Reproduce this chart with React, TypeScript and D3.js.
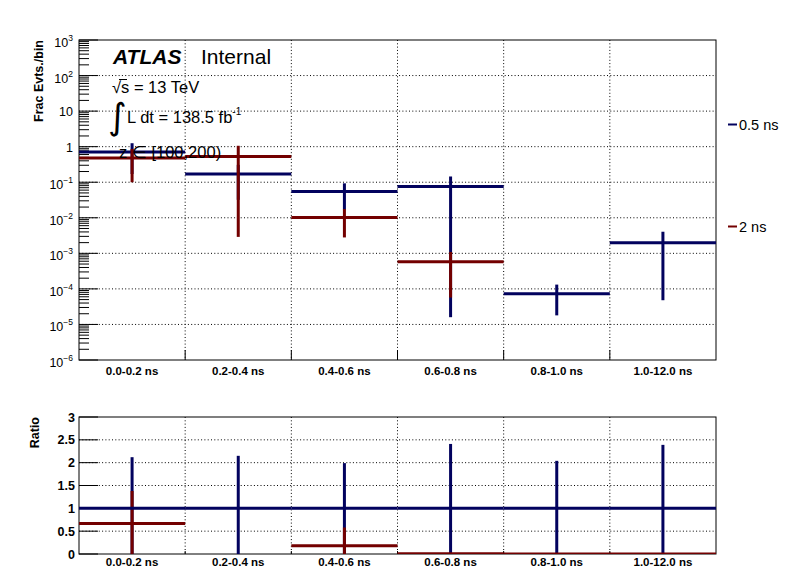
import React from "react";
import * as d3 from "d3";

const bins = ["0.0-0.2 ns", "0.2-0.4 ns", "0.4-0.6 ns", "0.6-0.8 ns", "0.8-1.0 ns", "1.0-12.0 ns"];

// upper panel: 0.5 ns series
const blueVals = [0.71, 0.17, 0.055, 0.076, 7.3e-5, 2.0e-3];
const blueLow = [0.17, 0.032, 0.017, 1.6e-5, 1.8e-5, 4.8e-5];
const blueHigh = [1.25, 0.308, 0.093, 0.145, 1.32e-4, 4.05e-3];

// upper panel: 2 ns series
const redVals = [0.48, 0.53, 0.0102, 5.8e-4, null, null];
const redLow = [0.1, 0.0029, 0.0028, 5.7e-5, null, null];
const redHigh = [0.86, 1.06, 0.0176, 1.09e-3, null, null];

// ratio panel
const blueRatio = [1, 1, 1, 1, 1, 1];
const blueRatioErr = [1.12, 1.15, 0.99, 1.41, 1.04, 1.39];
const redRatio = [0.67, null, 0.18, 0.008, 0, 0];
const redRatioErr = [0.71, null, 0.4, 0.01, 0, 0];

const seriesNames = ["0.5 ns", "2 ns"];
const upperTickExps = [3, 2, 1, 0, -1, -2, -3, -4, -5, -6];
const ratioTicks = [0, 0.5, 1, 1.5, 2, 2.5, 3];

const BLUE = "#02025e";
const RED = "#730000";
const FONT = "'Liberation Sans', Arial, Helvetica, sans-serif";

const L = 79, R = 716;
const T1 = 40, B1 = 360;
const T2 = 417, B2 = 554;

export default function App() {
  const x = d3.scaleBand<string>().domain(bins).range([L, R]).paddingInner(0).paddingOuter(0);
  const yTop = d3.scaleLog().domain([1e-6, 1e3]).range([B1, T1]);
  const yBot = d3.scaleLinear().domain([0, 3]).range([B2, T2]);
  const bw = x.bandwidth();
  const edges = bins.slice(1).map((b) => x(b) as number);

  const minorVals: number[] = [];
  for (let e = -6; e < 3; e++) for (let k = 2; k <= 9; k++) minorVals.push(k * Math.pow(10, e));

  const dots = "1 2.3";

  const supLabel = (e: number) => {
    if (e === 0) return <tspan>1</tspan>;
    if (e === 1) return <tspan>10</tspan>;
    const s = e < 0 ? "\u2212" + String(-e) : String(e);
    return (
      <>
        <tspan>10</tspan>
        <tspan dy={-6} fontSize={8.5}>{s}</tspan>
      </>
    );
  };

  return (
    <svg width={796} height={572} style={{ position: "absolute", left: 0, top: 0, background: "#fff" }} fontFamily={FONT}>
      <defs>
        <clipPath id="clipTop">
          <rect x={L} y={T1} width={R - L} height={B1 - T1} />
        </clipPath>
        <clipPath id="clipBot">
          <rect x={L} y={T2} width={R - L} height={B2 - T2} />
        </clipPath>
      </defs>
      <rect x={0} y={0} width={796} height={572} fill="#fff" />

      {/* ===== Upper panel ===== */}
      {edges.map((ex, i) => (
        <line key={"gv" + i} x1={ex} x2={ex} y1={T1} y2={B1} stroke="#000" strokeWidth={1} strokeDasharray={dots} />
      ))}
      {upperTickExps.filter((e) => e < 3 && e > -6).map((e) => (
        <line key={"gh" + e} x1={L} x2={R} y1={yTop(Math.pow(10, e))} y2={yTop(Math.pow(10, e))} stroke="#000" strokeWidth={1} strokeDasharray={dots} />
      ))}
      {upperTickExps.map((e) => (
        <line key={"mt" + e} x1={L} x2={L + 19} y1={yTop(Math.pow(10, e))} y2={yTop(Math.pow(10, e))} stroke="#000" strokeWidth={1} />
      ))}
      {minorVals.map((v, i) => (
        <line key={"mn" + i} x1={L} x2={L + 10} y1={yTop(v)} y2={yTop(v)} stroke="#000" strokeWidth={1} />
      ))}
      {edges.map((ex, i) => (
        <line key={"xt" + i} x1={ex} x2={ex} y1={B1} y2={B1 - 10} stroke="#000" strokeWidth={1} />
      ))}
      <rect x={L} y={T1} width={R - L} height={B1 - T1} fill="none" stroke="#000" strokeWidth={1} />

      {upperTickExps.map((e) => (
        <text key={"yl" + e} x={73} y={yTop(Math.pow(10, e)) + (e > 1 || e < 0 ? 7 : 5)} textAnchor="end" fontSize={12.5}>
          {supLabel(e)}
        </text>
      ))}
      {bins.map((b) => (
        <text key={"xl" + b} x={(x(b) as number) + bw / 2} y={375} textAnchor="middle" fontSize={11.5} fontWeight="bold">
          {b}
        </text>
      ))}
      <text transform={`translate(43,${T1}) rotate(-90)`} textAnchor="end" fontSize={12.5} fontWeight="bold">
        Frac Evts./bin
      </text>

      <g clipPath="url(#clipTop)">
        {bins.map((b, i) => {
          const x0 = x(b) as number;
          return (
            <g key={"b" + i} stroke={BLUE} strokeWidth={3}>
              <line x1={x0 + bw / 2} x2={x0 + bw / 2} y1={yTop(blueLow[i])} y2={yTop(blueHigh[i])} />
              <line x1={x0} x2={x0 + bw} y1={yTop(blueVals[i])} y2={yTop(blueVals[i])} />
            </g>
          );
        })}
        {bins.map((b, i) => {
          const v = redVals[i];
          if (v == null) return null;
          const x0 = x(b) as number;
          return (
            <g key={"r" + i} stroke={RED} strokeWidth={3}>
              <line x1={x0 + bw / 2} x2={x0 + bw / 2} y1={yTop(redLow[i] as number)} y2={yTop(redHigh[i] as number)} />
              <line x1={x0} x2={x0 + bw} y1={yTop(v)} y2={yTop(v)} />
            </g>
          );
        })}
      </g>

      <text x={113} y={64} fontSize={21} fontWeight="bold" fontStyle="italic">ATLAS</text>
      <text x={201} y={64} fontSize={21}>Internal</text>
      <text x={112} y={92.5} fontSize={16.5}>{"\u221As = 13 TeV"}</text>
      <line x1={119} x2={127} y1={79.5} y2={79.5} stroke="#000" strokeWidth={1} />
      <text x={108} y={129} fontSize={36} fontFamily="'DejaVu Sans', sans-serif">{"\u222B"}</text>
      <text x={127} y={122.5} fontSize={16.5}>
        L dt = 138.5 fb<tspan dy={-8} fontSize={10}>-1</tspan>
      </text>
      <text x={119} y={158} fontSize={16.5}>{"z \u2208 [100,200)"}</text>

      <line x1={728} x2={737} y1={124.5} y2={124.5} stroke={BLUE} strokeWidth={2} />
      <text x={739} y={130} fontSize={14.5}>{seriesNames[0]}</text>
      <line x1={728} x2={737} y1={226.5} y2={226.5} stroke={RED} strokeWidth={2} />
      <text x={739} y={232} fontSize={14.5}>{seriesNames[1]}</text>

      {/* ===== Lower panel ===== */}
      {edges.map((ex, i) => (
        <line key={"gv2" + i} x1={ex} x2={ex} y1={T2} y2={B2} stroke="#000" strokeWidth={1} strokeDasharray={dots} />
      ))}
      {ratioTicks.filter((t) => t > 0 && t < 3).map((t) => (
        <line key={"gh2" + t} x1={L} x2={R} y1={yBot(t)} y2={yBot(t)} stroke="#000" strokeWidth={1} strokeDasharray={dots} />
      ))}
      {ratioTicks.map((t) => (
        <line key={"rt" + t} x1={L} x2={L + 19} y1={yBot(t)} y2={yBot(t)} stroke="#000" strokeWidth={1} />
      ))}
      {edges.map((ex, i) => (
        <line key={"xt2" + i} x1={ex} x2={ex} y1={B2} y2={B2 - 3} stroke="#000" strokeWidth={1} />
      ))}
      <rect x={L} y={T2} width={R - L} height={B2 - T2} fill="none" stroke="#000" strokeWidth={1} />
      {ratioTicks.map((t) => (
        <text key={"rl" + t} x={75} y={yBot(t) + 4.5} textAnchor="end" fontSize={12.5} fontWeight="bold">
          {String(t)}
        </text>
      ))}
      {bins.map((b) => (
        <text key={"xl2" + b} x={(x(b) as number) + bw / 2} y={566} textAnchor="middle" fontSize={11.5} fontWeight="bold">
          {b}
        </text>
      ))}
      <text transform={`translate(38.5,${T2}) rotate(-90)`} textAnchor="end" fontSize={12.5} fontWeight="bold">
        Ratio
      </text>

      <g clipPath="url(#clipBot)">
        {bins.map((b, i) => {
          const x0 = x(b) as number;
          return (
            <line key={"bre" + i} x1={x0 + bw / 2} x2={x0 + bw / 2}
              y1={yBot(blueRatio[i] - blueRatioErr[i])} y2={yBot(blueRatio[i] + blueRatioErr[i])}
              stroke={BLUE} strokeWidth={3} />
          );
        })}
        {bins.map((b, i) => {
          const v = redRatio[i];
          if (v == null) return null;
          const e = redRatioErr[i] as number;
          const x0 = x(b) as number;
          return (
            <g key={"rr" + i} stroke={RED} strokeWidth={3}>
              {e > 0 && <line x1={x0 + bw / 2} x2={x0 + bw / 2} y1={yBot(v - e)} y2={yBot(v + e)} />}
              <line x1={x0} x2={x0 + bw} y1={yBot(v)} y2={yBot(v)} />
            </g>
          );
        })}
        {bins.map((b, i) => {
          const x0 = x(b) as number;
          return (
            <line key={"brh" + i} x1={x0} x2={x0 + bw} y1={yBot(blueRatio[i])} y2={yBot(blueRatio[i])} stroke={BLUE} strokeWidth={3} />
          );
        })}
      </g>
    </svg>
  );
}
